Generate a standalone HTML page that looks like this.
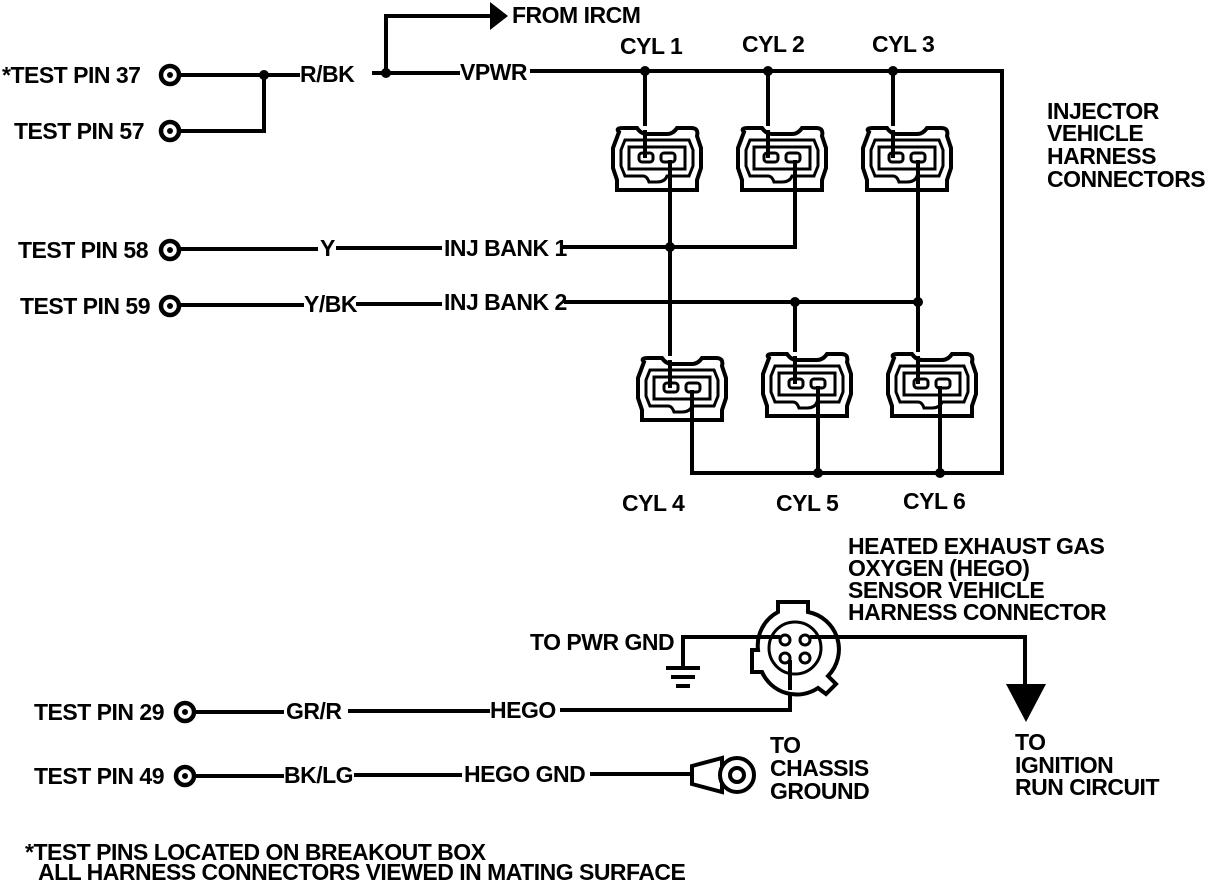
<!DOCTYPE html>
<html><head><meta charset="utf-8"><style>
html,body{margin:0;padding:0;background:#fff;}
svg{display:block;}
text{font-family:"Liberation Sans",sans-serif;font-weight:bold;font-size:23px;fill:#000;letter-spacing:-0.5px;}
</style></head><body>
<svg width="1216" height="886" viewBox="0 0 1216 886" xmlns="http://www.w3.org/2000/svg">
<defs>
<g id="conn" fill="none" stroke="#000">
  <path d="M-38,-26 Q-42,-30 -34,-30 L-20,-30 Q-16,-24 -10,-24 L10,-24 Q16,-24 20,-30 L34,-30 Q42,-30 40,-22 L44,-10 L44,10 L40,22 L40,32 L-40,32 L-40,22 L-44,10 L-44,-10 Z" stroke-width="4"/>
  <path d="M-32,-18 L32,-18 L36,-8 L36,8 L32,18 L10,18 Q8,24 0,24 L-8,24 Q-10,18 -14,18 L-32,18 L-36,8 L-36,-8 Z" stroke-width="3"/>
  <rect x="-28" y="-11" width="56" height="22" stroke-width="3"/>
  <rect x="-18" y="-5" width="14" height="9" rx="3" stroke-width="3"/>
  <rect x="4" y="-5" width="14" height="9" rx="3" stroke-width="3"/>
</g>
<g id="tp" fill="none" stroke="#000"><circle r="9" stroke-width="4.5"/><circle r="2.5" fill="#000"/></g>
</defs>
<g stroke="#000" stroke-width="4" fill="none" stroke-linecap="square">
  <path d="M179,75 H298"/><path d="M374,73 H458"/><path d="M532,71 H1002 V473 H692"/>
  <path d="M179,131 H264 V75"/>
  <path d="M386,73 V16 H492"/>
  <path d="M645,71 V150"/><path d="M768,71 V150"/><path d="M893,71 V150"/>
  <path d="M670,160 V378"/><path d="M795,160 V247 H565"/><path d="M918,160 V378"/>
  <path d="M180,249 H316"/><path d="M338,248 H440"/>
  <path d="M180,305 H302"/><path d="M358,304 H440"/><path d="M566,302 H918"/>
  <path d="M795,302 V378"/>
  <path d="M692,392 V473"/><path d="M818,388 V473"/><path d="M940,388 V473"/>
  <path d="M683,666 V637 H1025 V688"/>
  <path d="M195,712 H282"/><path d="M350,711 H488"/><path d="M562,710 H790 V650"/>
  <path d="M195,776 H282"/><path d="M356,775 H460"/><path d="M592,774 H690"/>
</g>
<polygon points="490,2 508,16 490,30" fill="#000"/>
<polygon points="1006,684 1046,684 1026,722" fill="#000"/>
<g stroke="#000" stroke-width="4"><path d="M666,668 H700"/><path d="M671,677 H695"/><path d="M676,686 H690"/></g>
<g fill="#000"><circle cx="264" cy="75" r="5"/><circle cx="386" cy="73" r="5"/><circle cx="645" cy="71" r="5"/><circle cx="768" cy="71" r="5"/><circle cx="893" cy="71" r="5"/><circle cx="670" cy="247" r="5"/><circle cx="795" cy="302" r="5"/><circle cx="918" cy="302" r="5"/><circle cx="818" cy="473" r="5"/><circle cx="940" cy="473" r="5"/></g>
<use href="#tp" x="170" y="75"/><use href="#tp" x="170" y="131"/><use href="#tp" x="170" y="250"/><use href="#tp" x="170" y="306"/><use href="#tp" x="185" y="712"/><use href="#tp" x="185" y="776"/>
<g fill="#fff"><rect x="612" y="126" width="92" height="66"/><rect x="737" y="126" width="92" height="66"/><rect x="862" y="126" width="92" height="66"/><rect x="637" y="356" width="92" height="66"/><rect x="762" y="352" width="92" height="66"/><rect x="887" y="352" width="92" height="66"/></g>
<use href="#conn" x="657" y="158"/><use href="#conn" x="782" y="158"/><use href="#conn" x="907" y="158"/>
<use href="#conn" x="682" y="388"/><use href="#conn" x="807" y="384"/><use href="#conn" x="932" y="384"/>
<g stroke="#000" stroke-width="4"><path d="M645,130 V158"/><path d="M768,130 V158"/><path d="M893,130 V158"/><path d="M670,160 V190"/><path d="M795,160 V190"/><path d="M918,160 V190"/>
<path d="M670,360 V388"/><path d="M795,356 V384"/><path d="M918,356 V384"/><path d="M692,390 V420"/><path d="M818,386 V416"/><path d="M940,386 V416"/></g>
<g fill="#fff" stroke="#000" stroke-width="4">
  <path d="M778,612 V602 H808 V612 A38,38 0 0 1 828,676 L836,684 L826,694 L818,688 A38,38 0 0 1 762,672 L752,672 L752,650 L758,650 A38,38 0 0 1 778,612 Z"/>
  <circle cx="795" cy="648" r="26" stroke-width="3"/>
  <circle cx="785" cy="640" r="5" stroke-width="3"/><circle cx="805" cy="640" r="5" stroke-width="3"/><circle cx="785" cy="658" r="5" stroke-width="3"/><circle cx="805" cy="658" r="5" stroke-width="3"/>
</g>
<g stroke="#000" stroke-width="4"><path d="M760,637 H780"/><path d="M810,637 H840"/><path d="M790,660 V690"/></g>
<g stroke="#000" stroke-width="4" fill="#fff"><path d="M692,766 L722,758 L722,792 L692,784 Z"/><circle cx="737" cy="775" r="17"/><circle cx="737" cy="775" r="7"/></g>
<text x="2" y="83">*TEST PIN 37</text>
<text x="14" y="139">TEST PIN 57</text>
<text x="18" y="258">TEST PIN 58</text>
<text x="20" y="314">TEST PIN 59</text>
<text x="300" y="82">R/BK</text>
<text x="460" y="80">VPWR</text>
<text x="512" y="23">FROM IRCM</text>
<text x="320" y="256">Y</text>
<text x="444" y="256">INJ BANK 1</text>
<text x="304" y="312">Y/BK</text>
<text x="444" y="310">INJ BANK 2</text>
<text x="620" y="54">CYL 1</text><text x="742" y="52">CYL 2</text><text x="872" y="52">CYL 3</text>
<text x="622" y="511">CYL 4</text><text x="776" y="511">CYL 5</text><text x="903" y="509">CYL 6</text>
<text x="1047" y="119">INJECTOR</text><text x="1047" y="141">VEHICLE</text><text x="1047" y="164">HARNESS</text><text x="1047" y="187">CONNECTORS</text>
<text x="848" y="554">HEATED EXHAUST GAS</text><text x="848" y="576">OXYGEN (HEGO)</text><text x="848" y="598">SENSOR VEHICLE</text><text x="848" y="620">HARNESS CONNECTOR</text>
<text x="530" y="650">TO PWR GND</text>
<text x="34" y="720">TEST PIN 29</text><text x="286" y="719">GR/R</text><text x="490" y="718">HEGO</text>
<text x="34" y="784">TEST PIN 49</text><text x="284" y="783">BK/LG</text><text x="464" y="782">HEGO GND</text>
<text x="770" y="753">TO</text><text x="770" y="776">CHASSIS</text><text x="770" y="799">GROUND</text>
<text x="1015" y="750">TO</text><text x="1015" y="773">IGNITION</text><text x="1015" y="795">RUN CIRCUIT</text>
<text x="25" y="860">*TEST PINS LOCATED ON BREAKOUT BOX</text>
<text x="38" y="880">ALL HARNESS CONNECTORS VIEWED IN MATING SURFACE</text>
</svg>
</body></html>
